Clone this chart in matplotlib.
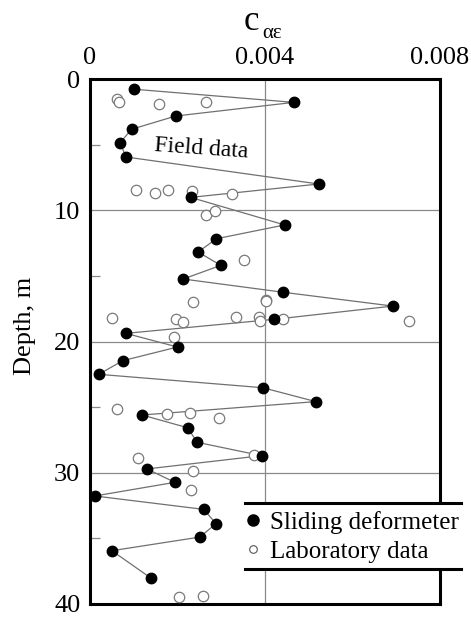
import numpy as np
import matplotlib
matplotlib.use("Agg")
import matplotlib.pyplot as plt
from matplotlib.lines import Line2D
from matplotlib.patches import Rectangle

plt.rcParams['font.family'] = ['Liberation Serif', 'DejaVu Serif']

# sliding deformeter (field data) - depth in m, c_ae
field_depth = [0.78, 1.78, 2.82, 3.83, 4.85, 5.94, 8.0, 9.02, 11.12, 12.17,
               13.18, 14.2, 15.24, 16.25, 17.3, 18.31, 19.38, 20.42, 21.46, 22.5,
               23.52, 24.58, 25.6, 26.57, 27.68, 28.7, 29.71, 30.73, 31.77, 32.79,
               33.88, 34.9, 35.94, 38.02]
field_c = [0.00101, 0.00466, 0.00196, 0.00095, 0.00069, 0.00082, 0.00523, 0.0023, 0.00445, 0.00289,
           0.00247, 0.00299, 0.00213, 0.00442, 0.00692, 0.00421, 0.00082, 0.0020, 0.00075, 0.0002,
           0.00395, 0.00516, 0.00119, 0.00223, 0.00245, 0.00392, 0.0013, 0.00194, 0.00011, 0.0026,
           0.00288, 0.00251, 0.0005, 0.00139]

# laboratory data
lab_depth = [1.53, 1.73, 1.9, 1.73,
             8.46, 8.71, 8.46, 8.53, 8.79,
             10.36, 10.06, 13.82,
             16.99, 16.8, 16.95,
             18.24, 18.31, 18.51, 18.13, 18.11, 18.44, 18.31, 18.44,
             19.63,
             25.14, 25.55, 25.42, 25.85,
             28.85, 28.65, 29.87, 31.34,
             39.49, 39.37]
lab_c = [0.00061, 0.00066, 0.00158, 0.00265,
         0.00104, 0.00148, 0.00178, 0.00234, 0.00325,
         0.00265, 0.00285, 0.00353,
         0.00235, 0.00402, 0.00402,
         0.0005, 0.00197, 0.00212, 0.00334, 0.00386, 0.00389, 0.0044, 0.00728,
         0.00192,
         0.00061, 0.00175, 0.00228, 0.00295,
         0.0011, 0.00375, 0.00236, 0.0023,
         0.00203, 0.00259]

xticks = [0, 0.004, 0.008]
xticklabels = ["0", "0.004", "0.008"]
yticks = [0, 10, 20, 30, 40]

W, H = 471, 617
fig = plt.figure(figsize=(W/100, H/100), dpi=100)
ax = fig.add_axes([90/W, 1-604/H, 350/W, 525/H])

ax.set_xlim(0, 0.008)
ax.set_ylim(40, 0)

# grid lines
for gx in [0.004]:
    ax.axvline(gx, color="#8a8a8a", lw=0.9, zorder=1)
for gy in [10, 20, 30]:
    ax.axhline(gy, color="#8a8a8a", lw=0.9, zorder=1)

ax.plot(field_c, field_depth, color="#707070", lw=0.9, zorder=2)
ax.plot(field_c, field_depth, ls="none", marker="o", ms=7.5, color="black", zorder=4)
ax.plot(lab_c, lab_depth, ls="none", marker="o", ms=7.5, mfc="white", mec="#7a7a7a", mew=0.9, zorder=3)

ax.xaxis.tick_top()
ax.set_xticks(xticks)
ax.set_xticklabels(xticklabels)
ax.set_yticks(yticks)
ax.set_yticks([5, 15, 25, 35], minor=True)
ax.tick_params(axis="both", which="major", length=0, labelsize=19, pad=7)
ax.tick_params(axis="y", which="minor", direction="in", length=7, width=0.9, color="#8a8a8a")
for s in ax.spines.values():
    s.set_linewidth(2.2)

ax.set_ylabel("Depth, m", fontsize=19)
ax.yaxis.set_label_coords(-0.155, 0.53)

fig.text(251/W, 1-22/H, "c", fontsize=25, ha="center", va="center")
fig.text(262/W, 1-34/H, "αε", fontsize=15, ha="left", va="center")

ax.text(0.00145, 5.3, "Field data", fontsize=17, rotation=-4, ha="left", va="center")

# legend with top and bottom rules
y_top, y_bot = 1-503/H, 1-569/H
x0, x1 = 245/W, 461/W
fig.add_artist(Rectangle((x0, y_bot), x1-x0, y_top-y_bot, transform=fig.transFigure,
                         facecolor="white", edgecolor="none", zorder=5))
for yy in (y_top, y_bot):
    fig.add_artist(Line2D([x0, x1], [yy, yy], transform=fig.transFigure, color="black", lw=2.2, zorder=6))
handles = [Line2D([], [], ls="none", marker="o", ms=8, color="black"),
           Line2D([], [], ls="none", marker="o", ms=5.5, mfc="white", mec="#555555", mew=0.8)]
leg = fig.legend(handles, ["Sliding deformeter", "Laboratory data"], loc="center left",
                 bbox_to_anchor=(233/W, 1-537/H), frameon=False, fontsize=18,
                 handlelength=0.6, handletextpad=0.4, labelspacing=0.25, borderpad=0)
leg.set_zorder(7)

fig.savefig("out.png", dpi=100)
